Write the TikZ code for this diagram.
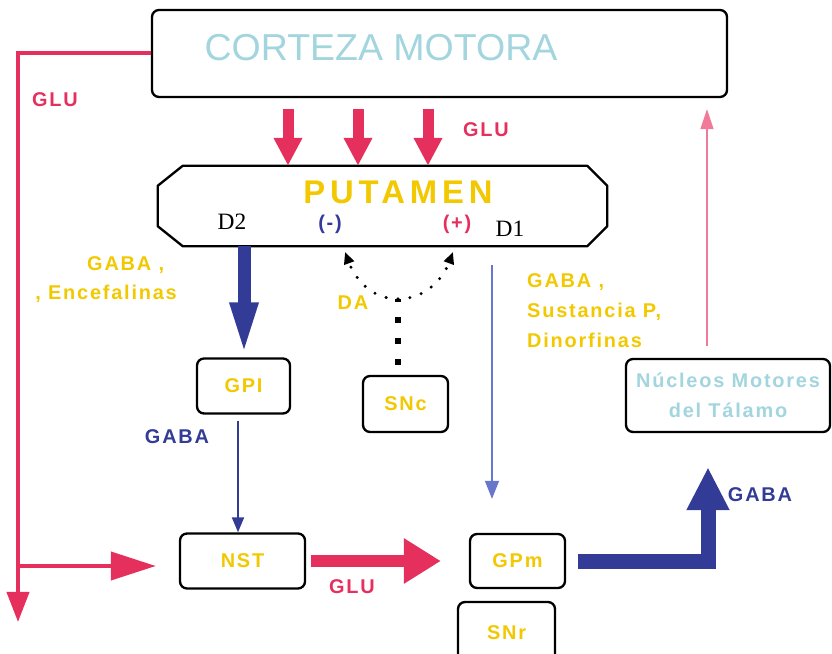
\documentclass[tikz,border=0pt]{standalone}
\usepackage{fontspec}
\setmainfont{Liberation Sans}
\newfontfamily\lblfont[LetterSpace=9]{Liberation Sans}
\newfontfamily\bigfont[LetterSpace=15]{Liberation Sans}
\newfontfamily\dfont{Liberation Serif}
\usetikzlibrary{arrows.meta}
\definecolor{GLURed}{HTML}{E5305E}
\definecolor{GABABlue}{HTML}{323C96}
\definecolor{NTYellow}{HTML}{F2C800}
\definecolor{TalCyan}{HTML}{A2D5DE}
\definecolor{ThinBlue}{HTML}{6677CC}
\definecolor{ThinPink}{HTML}{F07A98}
\tikzset{
  box/.style={draw=black,line width=2pt,rounded corners=6pt,fill=white,inner sep=0pt},
  nuc/.style={box,text=NTYellow,font=\lblfont\bfseries\fontsize{17}{20}\selectfont},
  lbl/.style={inner sep=0pt,font=\lblfont\bfseries\fontsize{17}{20}\selectfont},
  glu/.style={GLURed,line width=0.12cm},
  gaba/.style={GABABlue,line width=0.06cm,-{Triangle[length=0.45cm,width=0.36cm]}},
  dopa/.style={line width=0.1cm,line cap=round,dash pattern=on 0pt off 0.36cm,
    -{Triangle[length=0.36cm,width=0.3cm]}}
}
\begin{document}
\begin{tikzpicture}[x=0.03cm,y=-0.03cm]
\useasboundingbox (0,0) rectangle (832,654);
\node[box,minimum width=17.25cm,minimum height=2.61cm] (cortex) at (439.5,53.5) {};
\node[inner sep=0pt,text=TalCyan,font=\fontsize{32}{36}\selectfont] (cortexlab) at (381,48) {CORTEZA MOTORA};
\node[minimum width=13.47cm,minimum height=2.4cm,inner sep=0pt] (putamen) at (382.5,206) {};
\draw[line width=2pt,line join=round] ([xshift=0.75cm]putamen.north west) -- ([xshift=-0.6cm]putamen.north east)
  -- ([yshift=-0.6cm]putamen.north east) -- ([yshift=0.6cm]putamen.south east)
  -- ([xshift=-0.6cm]putamen.south east) -- ([xshift=0.75cm]putamen.south west)
  -- ([yshift=0.6cm]putamen.south west) -- ([yshift=-0.6cm]putamen.north west) -- cycle;
\node[inner sep=0pt,text=NTYellow,font=\bigfont\bfseries\fontsize{28}{31}\selectfont] (putlab) at (398,192) {PUTAMEN};
\node[inner sep=0pt,font=\dfont\fontsize{20}{22}\selectfont] (d2) at (232,222) {D2};
\node[inner sep=0pt,font=\dfont\fontsize{20}{22}\selectfont] (d1) at (510,229) {D1};
\node[lbl,text=GABABlue] (minus) at (330,224) {(-)};
\node[lbl,text=GLURed] (plus) at (457,224) {(+)};

\node[nuc,minimum width=2.79cm,minimum height=1.65cm] (gpi) at (243.5,386) {GPI};
\node[nuc,minimum width=2.55cm,minimum height=1.68cm] (snc) at (405.5,404) {SNc};
\node[nuc,minimum width=3.75cm,minimum height=1.65cm] (nst) at (242.5,561) {NST};
\node[nuc,minimum width=2.85cm,minimum height=1.62cm] (gpm) at (517.5,561) {GPm};
\node[nuc,minimum width=2.91cm,minimum height=1.86cm] (snr) at (506.5,633) {SNr};
\node[box,minimum width=6.12cm,minimum height=2.19cm,text=TalCyan,align=center,
  font=\lblfont\bfseries\fontsize{17}{26}\selectfont] (talamo) at (728,395.5) {Núcleos Motores\\del Tálamo};

\node[lbl,text=GLURed] (glu1) at (55,100) {GLU};
\node[lbl,text=GLURed] (glu2) at (486,130) {GLU};
\node[lbl,text=GLURed] (glu3) at (352,587) {GLU};
\node[lbl,text=GABABlue] (gaba1) at (177,437) {GABA};
\node[lbl,text=GABABlue] (gaba2) at (760,495) {GABA};
\node[lbl,text=NTYellow,anchor=west] (enc1) at (87,265) {GABA ,};
\node[lbl,text=NTYellow,anchor=east] (enc2) at (177,294) {, Encefalinas};
\node[lbl,text=NTYellow,anchor=west] (sus1) at (527,282) {GABA ,};
\node[lbl,text=NTYellow,anchor=west] (sus2) at (527,312) {Sustancia P,};
\node[lbl,text=NTYellow,anchor=west] (sus3) at (527,340) {Dinorfinas};
\node[lbl,text=NTYellow] (da) at (353,303) {DA};

\coordinate (glusplit) at (18,566);
\coordinate (gludown) at (18,622);
\coordinate (dasplit) at (398,299);

\draw[glu,line join=miter] (cortex.west) -- (18,0 |- cortex.west) -- (glusplit);
\draw[glu,-{Triangle[length=0.9cm,width=0.66cm]}] (glusplit) -- (gludown);
\draw[glu,-{Triangle[length=1.35cm,width=0.84cm]},shorten >=0.69cm] (glusplit) -- (glusplit -| nst.west);
\foreach \x in {288,358,428}
  \draw[GLURed,line width=0.33cm,-{Triangle[length=0.84cm,width=0.81cm]},shorten <=0.33cm] (\x,0 |- cortex.south) -- (\x,0 |- putamen.north);
\draw[GLURed,line width=0.36cm,-{Triangle[length=1.11cm,width=1.29cm]},shorten <=0.15cm,shorten >=0.84cm] (nst.east) -- (gpm.west);

\draw[GABABlue,line width=0.39cm,-{Triangle[length=1.65cm,width=0.75cm]}] (244,0 |- putamen.south) -- (244,0 |- gpi.north);
\draw[gaba,shorten <=0.18cm] (238,0 |- gpi.south) -- (238,0 |- nst.north);
\draw[GABABlue,line width=0.45cm,line join=miter,-{Triangle[length=1.29cm,width=1.2cm]},shorten <=0.36cm,shorten >=1.02cm]
  (gpm.east) -- (708,0 |- gpm.east) -- (708,0 |- talamo.south);
\draw[ThinBlue,line width=0.045cm,-{Triangle[length=0.54cm,width=0.42cm]},shorten <=0.57cm,shorten >=1.02cm]
  (492,0 |- putamen.south) -- (492,0 |- gpm.north);
\draw[ThinPink,line width=0.045cm,-{Triangle[length=0.6cm,width=0.39cm]},shorten <=0.36cm,shorten >=0.33cm]
  (707,0 |- talamo.north) -- (707,0 |- cortex.south);

\draw[line width=0.18cm,dash pattern=on 0.18cm off 0.45cm,shorten <=0.3cm] (398,0 |- snc.north) -- (dasplit);
\draw[dopa,shorten >=0.18cm] (dasplit) to[out=180,in=-70] (343,0 |- putamen.south);
\draw[dopa,shorten >=0.18cm] (dasplit) to[out=0,in=-110] (455,0 |- putamen.south);
\end{tikzpicture}
\end{document}
